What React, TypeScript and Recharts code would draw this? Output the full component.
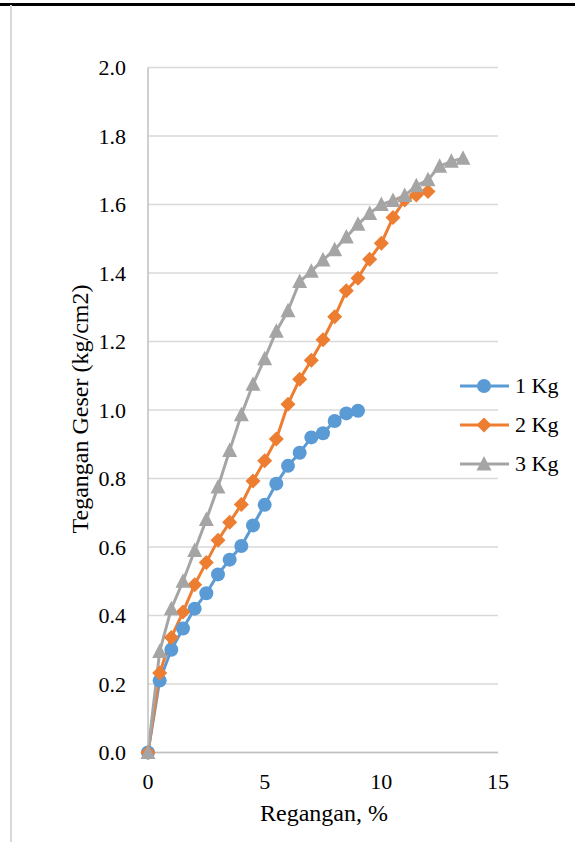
import React from "react"
import { LineChart, Line, XAxis, YAxis, CartesianGrid, Legend } from "recharts"

// Regangan (%) for each load
const strain1 = [0, 0.5, 1, 1.5, 2, 2.5, 3, 3.5, 4, 4.5, 5, 5.5, 6, 6.5, 7, 7.5, 8, 8.5, 9]
const strain2 = [0, 0.5, 1, 1.5, 2, 2.5, 3, 3.5, 4, 4.5, 5, 5.5, 6, 6.5, 7, 7.5, 8, 8.5, 9, 9.5, 10, 10.5, 11, 11.5, 12]
const strain3 = [0, 0.5, 1, 1.5, 2, 2.5, 3, 3.5, 4, 4.5, 5, 5.5, 6, 6.5, 7, 7.5, 8, 8.5, 9, 9.5, 10, 10.5, 11, 11.5, 12, 12.5, 13, 13.5]

// Tegangan geser (kg/cm2)
const stress1 = [0, 0.21, 0.3, 0.362, 0.42, 0.465, 0.52, 0.563, 0.603, 0.663, 0.723, 0.785, 0.837, 0.875, 0.92, 0.932, 0.968, 0.99, 0.998]
const stress2 = [0, 0.232, 0.336, 0.41, 0.49, 0.555, 0.62, 0.672, 0.724, 0.793, 0.852, 0.915, 1.017, 1.09, 1.145, 1.205, 1.272, 1.348, 1.385, 1.44, 1.487, 1.562, 1.613, 1.628, 1.638]
const stress3 = [0, 0.295, 0.42, 0.5, 0.59, 0.68, 0.775, 0.882, 0.986, 1.075, 1.15, 1.23, 1.29, 1.375, 1.405, 1.438, 1.468, 1.505, 1.542, 1.574, 1.6, 1.612, 1.626, 1.655, 1.672, 1.712, 1.726, 1.735]

const seriesNames = ["1 Kg", "2 Kg", "3 Kg"]
const xTicks = [0, 5, 10, 15]
const yTicks = [0, 0.2, 0.4, 0.6, 0.8, 1.0, 1.2, 1.4, 1.6, 1.8, 2.0]

const BLUE = "#5B9BD5"
const ORANGE = "#ED7D31"
const GREY = "#A5A5A5"
const FONT = "Liberation Serif"

const toRows = (xs: number[], ys: number[]) => xs.map((x, i) => ({ x, y: ys[i] }))

const data1 = toRows(strain1, stress1)
const data2 = toRows(strain2, stress2)
const data3 = toRows(strain3, stress3)

function marker(kind: string, cx: number, cy: number, color: string, key?: string) {
  if (kind === "circle") return <circle key={key} cx={cx} cy={cy} r={7} fill={color} />
  if (kind === "diamond")
    return <path key={key} d={`M${cx},${cy - 7.5}L${cx + 7.5},${cy}L${cx},${cy + 7.5}L${cx - 7.5},${cy}Z`} fill={color} />
  return <path key={key} d={`M${cx},${cy - 8}L${cx + 7.5},${cy + 6.5}L${cx - 7.5},${cy + 6.5}Z`} fill={color} />
}

const dotFor = (kind: string, color: string) => (p: any) => {
  if (p.cx == null || p.cy == null) return <g key={p.key} />
  return marker(kind, p.cx, p.cy, color, p.key)
}

const XTick = (p: any) => (
  <text x={p.x} y={p.y} dy={22} textAnchor="middle" fontFamily={FONT} fontSize={22} fill="#000">
    {p.payload.value}
  </text>
)

const YTick = (p: any) => (
  <text x={p.x} y={p.y} dy={7.5} textAnchor="end" fontFamily={FONT} fontSize={22} fill="#000">
    {Number(p.payload.value).toFixed(1)}
  </text>
)

const legendItems = [
  { name: seriesNames[0], color: BLUE, kind: "circle" },
  { name: seriesNames[1], color: ORANGE, kind: "diamond" },
  { name: seriesNames[2], color: GREY, kind: "triangle" },
]

function LegendBox() {
  return (
    <div>
      {legendItems.map((it) => (
        <div key={it.name} style={{ display: "flex", alignItems: "center", height: 39 }}>
          <svg width={52} height={20}>
            <line x1={1} y1={10} x2={50} y2={10} stroke={it.color} strokeWidth={3} />
            {marker(it.kind, 25, 10, it.color)}
          </svg>
          <span style={{ fontFamily: FONT, fontSize: 22, color: "#000", marginLeft: 4 }}>{it.name}</span>
        </div>
      ))}
    </div>
  )
}

export default function App() {
  return (
    <div style={{ position: "absolute", left: 0, top: 0, width: 575, height: 842, background: "#fff" }}>
      <div style={{ position: "absolute", left: 0, top: 3, width: 575, height: 2.5, background: "#000" }} />
      <div style={{ position: "absolute", left: 10, top: 5, width: 2, height: 837, background: "#d9d9d9" }} />
      <LineChart width={575} height={842} margin={{ top: 67.5, right: 77, bottom: 29.5, left: 0 }}>
        <CartesianGrid vertical={false} stroke="#D9D9D9" strokeWidth={1.5} />
        <XAxis
          type="number"
          dataKey="x"
          domain={[0, 15]}
          ticks={xTicks}
          height={60}
          tickLine={false}
          tickSize={0}
          tickMargin={14}
          axisLine={{ stroke: "#BFBFBF", strokeWidth: 1.5 }}
          tick={<XTick />}
          label={() => (
            <text x={324} y={821} textAnchor="middle" fontFamily={FONT} fontSize={24} fill="#000">
              Regangan, %
            </text>
          )}
        />
        <YAxis
          type="number"
          domain={[0, 2]}
          ticks={yTicks}
          width={148}
          tickLine={false}
          tickSize={0}
          tickMargin={22}
          axisLine={{ stroke: "#BFBFBF", strokeWidth: 1.5 }}
          tick={<YTick />}
          label={() => (
            <text
              x={88}
              y={409}
              transform="rotate(-90 88 409)"
              textAnchor="middle"
              fontFamily={FONT}
              fontSize={24}
              fill="#000"
            >
              Tegangan Geser (kg/cm2)
            </text>
          )}
        />
        <Legend
          layout="vertical"
          align="center"
          verticalAlign="middle"
          wrapperStyle={{ left: 459, top: 366, width: 116 }}
          content={() => <LegendBox />}
        />
        <Line data={data1} dataKey="y" name={seriesNames[0]} stroke={BLUE} strokeWidth={3} dot={dotFor("circle", BLUE)} isAnimationActive={false} />
        <Line data={data2} dataKey="y" name={seriesNames[1]} stroke={ORANGE} strokeWidth={3} dot={dotFor("diamond", ORANGE)} isAnimationActive={false} />
        <Line data={data3} dataKey="y" name={seriesNames[2]} stroke={GREY} strokeWidth={3} dot={dotFor("triangle", GREY)} isAnimationActive={false} />
      </LineChart>
    </div>
  )
}
